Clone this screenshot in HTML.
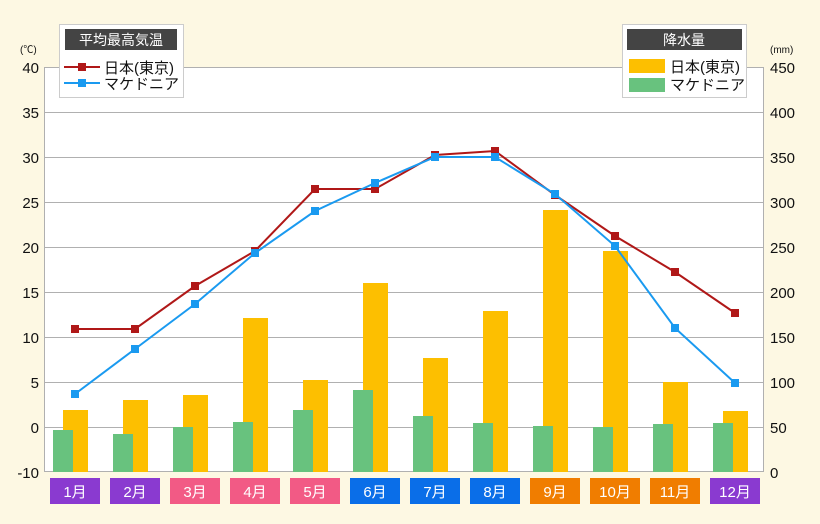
<!DOCTYPE html><html><head><meta charset="utf-8"><style>body{margin:0;background:#fdf8e3}svg{display:block;font-family:"Liberation Sans","Noto Sans CJK JP",sans-serif}</style></head><body>
<svg width="820" height="524" xmlns="http://www.w3.org/2000/svg">
<rect width="820" height="524" fill="#fdf8e3"/>
<rect x="44" y="67" width="720" height="405" fill="#fff"/>
<g stroke="#b0b0b0" stroke-width="1">
<line x1="44" y1="112.5" x2="764" y2="112.5"/><line x1="44" y1="157.5" x2="764" y2="157.5"/><line x1="44" y1="202.5" x2="764" y2="202.5"/><line x1="44" y1="247.5" x2="764" y2="247.5"/><line x1="44" y1="292.5" x2="764" y2="292.5"/><line x1="44" y1="337.5" x2="764" y2="337.5"/><line x1="44" y1="382.5" x2="764" y2="382.5"/><line x1="44" y1="427.5" x2="764" y2="427.5"/><line x1="44" y1="67.5" x2="764" y2="67.5"/>
<line x1="44.5" y1="67" x2="44.5" y2="472"/><line x1="763.5" y1="67" x2="763.5" y2="472"/><line x1="44" y1="471.5" x2="764" y2="471.5"/>
</g>
<g id="bars"></g>
<g font-size="15" fill="#111" text-anchor="end">
<text x="39" y="73">40</text><text x="39" y="118">35</text><text x="39" y="163">30</text><text x="39" y="208">25</text><text x="39" y="253">20</text><text x="39" y="298">15</text><text x="39" y="343">10</text><text x="39" y="388">5</text><text x="39" y="433">0</text><text x="39" y="478">-10</text>
</g>
<g font-size="15" fill="#111" text-anchor="start">
<text x="770" y="73">450</text><text x="770" y="118">400</text><text x="770" y="163">350</text><text x="770" y="208">300</text><text x="770" y="253">250</text><text x="770" y="298">200</text><text x="770" y="343">150</text><text x="770" y="388">100</text><text x="770" y="433">50</text><text x="770" y="478">0</text>
</g>
<text x="20" y="53" font-size="10" fill="#111">(℃)</text>
<text x="770" y="53" font-size="10" fill="#111">(mm)</text>
<g id="lines"></g>
<g id="months"></g>
<rect x="59.5" y="24.5" width="124" height="73" fill="#fff" stroke="#ccc"/>
<rect x="65" y="29" width="112" height="21" fill="#444"/>
<text x="121" y="45" font-size="14" fill="#fff" text-anchor="middle">平均最高気温</text>
<line x1="64" y1="67" x2="100" y2="67" stroke="#b01818" stroke-width="2"/><rect x="78" y="63" width="8" height="8" fill="#b01818"/>
<text x="104" y="73" font-size="15" fill="#111">日本(東京)</text>
<line x1="64" y1="83" x2="100" y2="83" stroke="#1a9af0" stroke-width="2"/><rect x="78" y="79" width="8" height="8" fill="#1a9af0"/>
<text x="104" y="89" font-size="15" fill="#111">マケドニア</text>
<rect x="622.5" y="24.5" width="124" height="73" fill="#fff" stroke="#ccc"/>
<rect x="627" y="29" width="115" height="21" fill="#444"/>
<text x="684" y="45" font-size="14" fill="#fff" text-anchor="middle">降水量</text>
<rect x="629" y="59" width="36" height="14" fill="#fdbf00"/>
<text x="670" y="72" font-size="15" fill="#111">日本(東京)</text>
<rect x="629" y="78" width="36" height="14" fill="#68c27e"/>
<text x="670" y="90" font-size="15" fill="#111">マケドニア</text>
</svg>
<script>
const ns="http://www.w3.org/2000/svg";
function el(p,t,a,txt){const e=document.createElementNS(ns,t);for(const k in a)e.setAttribute(k,a[k]);if(txt)e.textContent=txt;document.getElementById(p).appendChild(e);return e;}
const tb=[410,400,395,318,380,283,358,311,210,251,382,411];
const mb=[430,434,427,422,410,390,416,423,426,427,424,423];
const tl=[329,329,286,251,189,189,155,151,195,236,272,313];
const ml=[394,349,304,253,211,183,157,157,194,246,328,383];
const cols=["#8a3ad0","#8a3ad0","#f25a85","#f25a85","#f25a85","#0a6ee8","#0a6ee8","#0a6ee8","#f07d00","#f07d00","#f07d00","#8a3ad0"];
for(let i=0;i<12;i++){const c=74+60*i;
el("bars","rect",{x:c-11,y:tb[i],width:25,height:472-tb[i],fill:"#fdbf00"});
el("bars","rect",{x:c-21,y:mb[i],width:20,height:472-mb[i],fill:"#68c27e"});
el("months","rect",{x:c-24,y:478,width:50,height:26,fill:cols[i]});
el("months","text",{x:c+1,y:497,"font-size":15,fill:"#fff","text-anchor":"middle"},(i+1)+"月");}
function line(d,col){el("lines","polyline",{points:d.map((y,i)=>(75+60*i)+","+y).join(" "),fill:"none",stroke:col,"stroke-width":2});
d.forEach((y,i)=>el("lines","rect",{x:71+60*i,y:y-4,width:8,height:8,fill:col}));}
line(tl,"#b01818");line(ml,"#1a9af0");
</script>
</body></html>
